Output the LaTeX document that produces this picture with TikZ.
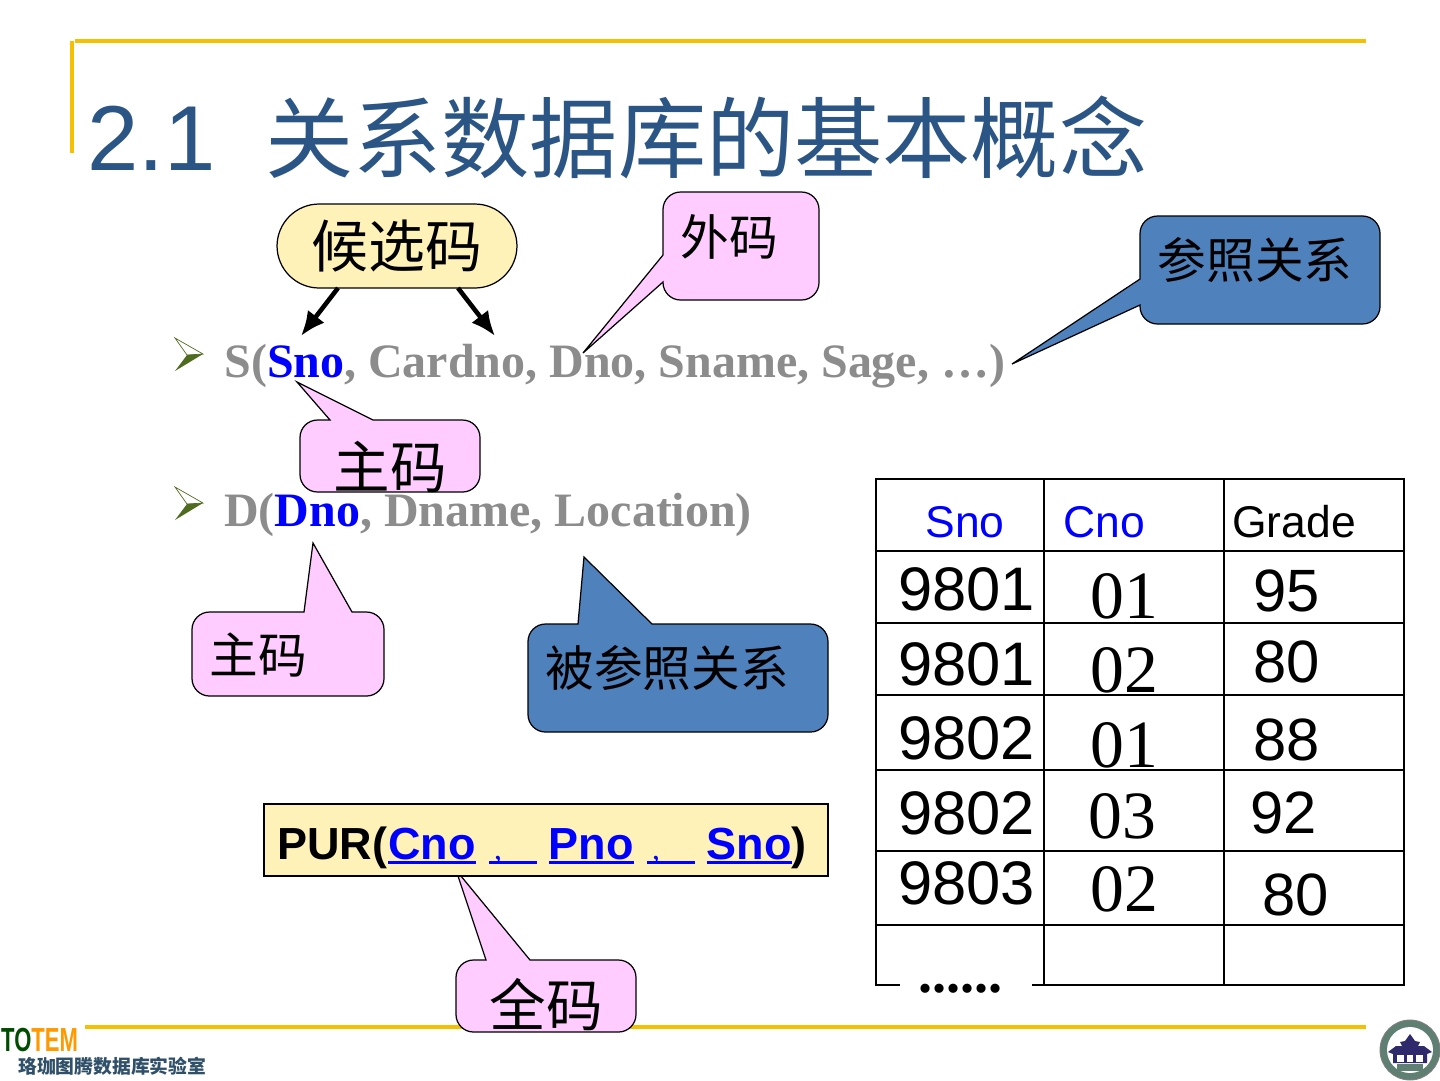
\documentclass[tikz,border=0pt]{standalone}
\usepackage{fontspec}
\usepackage{xcolor}
\usetikzlibrary{arrows.meta}
\setmainfont{Liberation Serif}
\setsansfont{Liberation Sans}
\newfontfamily\cjk{Noto Sans CJK SC}
\newcommand{\purul}[1]{\setbox0=\hbox{#1}\rlap{\rule[-3pt]{\wd0}{1.7pt}}\box0}
\definecolor{rulegold}{HTML}{F5C000}
\definecolor{titleblue}{HTML}{2A5585}
\definecolor{pinkfill}{HTML}{FFCCFF}
\definecolor{bluefill}{HTML}{4F81BD}
\definecolor{creamfill}{HTML}{FFF2B8}
\definecolor{keygray}{HTML}{8C8C8C}
\definecolor{bulletgreen}{HTML}{4F6B1F}
\definecolor{labslate}{HTML}{2F5068}
\definecolor{sealgreen}{HTML}{5E7F72}
\definecolor{sealnavy}{HTML}{2E2A6B}
\begin{document}
\begin{tikzpicture}[
    x=0.02cm, y=-0.02cm,
    txt/.style={inner sep=0pt, anchor=base west},
    rule/.style={line width=2.3pt, rulegold},
    pinkbox/.style={draw=black, fill=pinkfill, line width=0.7pt},
    bluebox/.style={draw=black, fill=bluefill, line width=0.7pt},
    boxtext/.style={inner sep=0pt, font=\cjk\fontsize{27.7}{30}\selectfont},
    bigtext/.style={inner sep=0pt, font=\cjk\fontsize{32.2}{34}\selectfont},
    grid/.style={line width=1.1pt, black},
    rowline/.style={line width=0.8pt, black},
    sanscell/.style={txt, font=\sffamily\fontsize{35}{36}\selectfont},
    gradecell/.style={txt, font=\sffamily\fontsize{34}{36}\selectfont},
    serifcell/.style={txt, font=\rmfamily\fontsize{38.5}{40}\selectfont},
    headcell/.style={txt, font=\sffamily\fontsize{25.3}{28}\selectfont},
    keyline/.style={txt, keygray, font=\rmfamily\bfseries\fontsize{27.3}{30}\selectfont},
    bullet/.pic={
        \draw[bulletgreen, fill=white, line width=0.4pt] (175,338) -- (203,354) -- (187,355) -- cycle;
        \fill[bulletgreen] (175,371) -- (203,354) -- (187,355) -- cycle;
    }
]
    \useasboundingbox (0,0) rectangle (1440,1080);

    % Coordinates
    \coordinate (sno_tip) at (297,382);
    \coordinate (dno_tip) at (313,543);
    \coordinate (fk_tip) at (583,353);
    \coordinate (ref_tip) at (1012,364);
    \coordinate (refd_tip) at (584,557);
    \coordinate (all_tip) at (456,870);
    \coordinate (arrow_left) at (301,336);
    \coordinate (arrow_right) at (495,336);

    % Frame rules
    \draw[rule] (75,41) -- (1366,41);
    \draw[rule] (72,41) -- (72,153);
    \draw[rule] (85,1027) -- (1366,1027);

    % Title
    \node[txt, titleblue, font=\sffamily\fontsize{52.5}{56}\selectfont] (title_num) at (87,170) {2.1};
    \node[txt, titleblue, font=\cjk\fontsize{50.2}{54}\selectfont] (title) at (265,171) {关系数据库的基本概念};

    % Key lines
    \pic {bullet};
    \pic at (0,149) {bullet};
    \node[keyline] (line_s) at (224,377) {S(\textcolor{blue}{Sno}, Cardno, Dno, Sname, Sage, …)};
    \node[keyline] (line_d) at (224,526) {D(\textcolor{blue}{Dno}, Dname, Location)};

    % Candidate key
    \node[draw=black, fill=creamfill, line width=0.7pt, rounded corners=24pt, minimum width=4.8cm, minimum height=1.68cm,
        inner sep=0pt, font=\cjk\fontsize{32.4}{36}\selectfont] (cand) at (397,246) {\raisebox{-1.2pt}{候选码}};
    \draw[-{Latex[length=14pt,width=12pt]}, line width=2.6pt] (338,288) -- (arrow_left);
    \draw[-{Latex[length=14pt,width=12pt]}, line width=2.6pt] (458,288) -- (arrow_right);

    % Callouts
    \draw[pinkbox] (740,192) [rounded corners=10pt] -- (819,192) -- (819,300) -- (663,300)
        [sharp corners] -- (663,282) -- (fk_tip) -- (663,255) [rounded corners=10pt] -- (663,192) -- cycle;
    \node[boxtext] (fk_text) at (729,237) {外码};

    \draw[bluebox] (1260,216) [rounded corners=10pt] -- (1380,216) -- (1380,324) -- (1140,324)
        [sharp corners] -- (1140,305) -- (ref_tip) -- (1140,279) [rounded corners=10pt] -- (1140,216) -- cycle;
    \node[boxtext] (ref_text) at (1255,260) {参照关系};

    \draw[pinkbox] (420,420) [rounded corners=10pt] -- (480,420) -- (480,492) -- (300,492) -- (300,420)
        [sharp corners] -- (330,420) -- (sno_tip) -- (373,420) [rounded corners=10pt] -- cycle;
    \node[bigtext] (pk_text) at (390,467) {主码};

    \draw[pinkbox] (290,696) [rounded corners=10pt] -- (192,696) -- (192,612)
        [sharp corners] -- (304,612) -- (dno_tip) -- (352,612) [rounded corners=10pt] -- (384,612) -- (384,696) -- cycle;
    \node[boxtext] (dk_text) at (258,655) {主码};

    \draw[bluebox] (680,732) [rounded corners=10pt] -- (528,732) -- (528,624)
        [sharp corners] -- (578,624) -- (refd_tip) -- (652,624) [rounded corners=10pt] -- (828,624) -- (828,732) -- cycle;
    \node[boxtext] (refd_text) at (667,668) {被参照关系};

    \draw[pinkbox] (546,1032) [rounded corners=10pt] -- (456,1032) -- (456,960)
        [sharp corners] -- (486,960) -- (all_tip) -- (530,960) [rounded corners=10pt] -- (636,960) -- (636,1032) -- cycle;
    \node[bigtext] (all_text) at (546,1005) {全码};

    % PUR box
    \node[draw=black, fill=creamfill, line width=1.1pt, minimum width=11.28cm, minimum height=1.44cm, inner sep=0pt] (pur) at (546,840) {};
    \node[txt, font=\sffamily\bfseries\fontsize{25.6}{28}\selectfont] (pur_text) at (277,859)
        {PUR(\hspace{0.6pt}\textcolor{blue}{\purul{Cno}\hspace{7.5pt}\purul{\hspace{3pt}{\rmfamily\mdseries\fontsize{18}{20}\selectfont,}\hspace{20pt}}\hspace{6.5pt}\purul{Pno}\hspace{7.5pt}\purul{\hspace{3pt}{\rmfamily\mdseries\fontsize{18}{20}\selectfont,}\hspace{20pt}}\hspace{6.5pt}\purul{Sno}})};

    % Table
    \draw[grid] (900,985) -- (876,985) -- (876,479) -- (1404,479) -- (1404,985) -- (1032,985);
    \draw[grid] (1044,479) -- (1044,985);
    \draw[grid] (1224,479) -- (1224,985);
    \draw[grid] (876,551) -- (1404,551);
    \foreach \y in {623,695,770,851,925} {
        \draw[rowline] (876,\y) -- (1404,\y);
    }

    \node[headcell, blue] (h_sno) at (925,537) {Sno};
    \node[headcell, blue] (h_cno) at (1063,537) {Cno};
    \node[headcell] (h_grade) at (1232,537) {Grade};

    \node[sanscell] (s1) at (898,610) {9801};
    \node[sanscell] (s2) at (898,685) {9801};
    \node[sanscell] (s3) at (898,759) {9802};
    \node[sanscell] (s4) at (898,834) {9802};
    \node[sanscell] (s5) at (898,904) {9803};

    \node[serifcell] (c1) at (1090,618) {01};
    \node[serifcell] (c2) at (1090,692) {02};
    \node[serifcell] (c3) at (1090,767) {01};
    \node[serifcell] (c4) at (1088,838) {03};
    \node[serifcell] (c5) at (1090,911) {02};

    \node[gradecell] (g1) at (1253,611) {95};
    \node[gradecell] (g2) at (1253,682) {80};
    \node[gradecell] (g3) at (1253,760) {88};
    \node[gradecell] (g4) at (1250,833) {92};
    \node[gradecell] (g5) at (1262,915) {80};

    \node[txt, font=\rmfamily\bfseries\fontsize{32}{33}\selectfont] (dots) at (918,992) {......};

    % Logo
    \node[txt, xscale=0.66, font=\sffamily\bfseries\fontsize{19}{20}\selectfont] (logo) at (1,1051)
        {\textcolor{black!70!green}{TO}\textcolor{orange!80!yellow}{TEM}};
    \node[txt, font=\cjk\bfseries\fontsize{10.7}{13}\selectfont, color=labslate] (lab) at (18,1073) {珞珈图腾数据库实验室};

    % Seal
    \coordinate (seal) at (1410,1050);
    \draw[gray, line width=0.5pt, fill=sealgreen] (seal) circle (30);
    \fill[white] (seal) circle (23);
    \fill[sealnavy] (1388,1052) -- (1396,1046) -- (1402,1046) -- (1400,1042) -- (1405,1041) -- (1410,1034) -- (1415,1041) -- (1420,1042) -- (1418,1046) -- (1424,1046) -- (1432,1052) -- (1427,1054) -- (1427,1063) -- (1393,1063) -- (1393,1054) -- cycle;
    \fill[white] (1397,1055) rectangle (1404,1062);
    \fill[white] (1407,1055) rectangle (1413,1062);
    \fill[white] (1416,1055) rectangle (1423,1062);
    \fill[sealgreen] (1397,1064) rectangle (1423,1071);
\end{tikzpicture}
\end{document}
